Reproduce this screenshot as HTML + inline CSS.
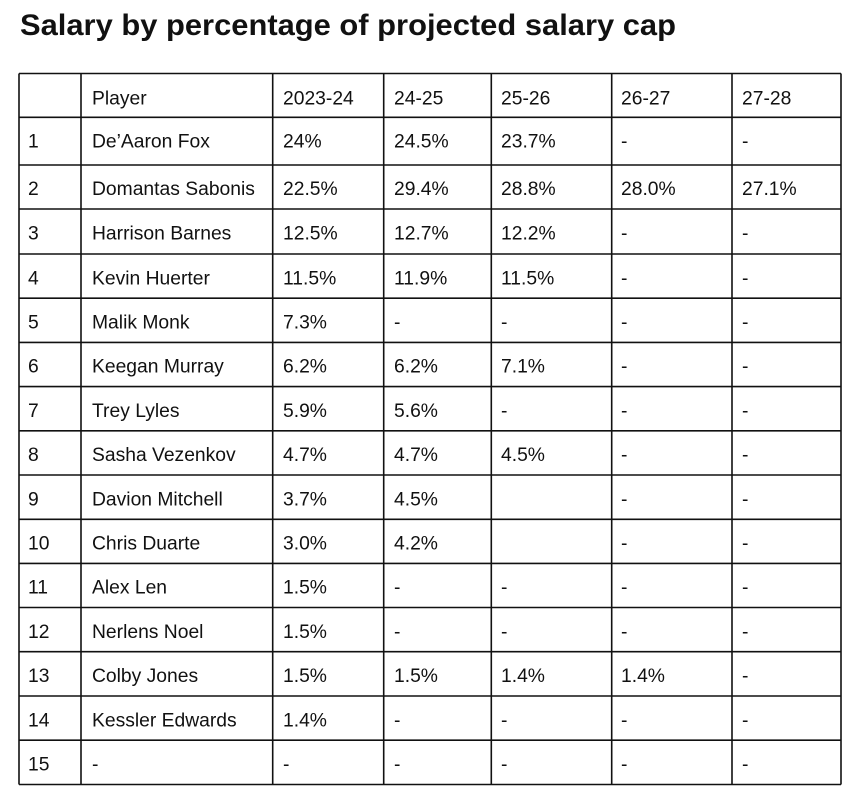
<!DOCTYPE html>
<html>
<head>
<meta charset="utf-8">
<style>
  html,body{margin:0;padding:0;background:#fff;}
  body{width:858px;height:804px;overflow:hidden;}
  svg{display:block;}
  text{font-family:"Liberation Sans",Arial,sans-serif;fill:#111;}
  .t{font-size:19.3px;}
  .h{font-size:30px;font-weight:bold;}
</style>
</head>
<body>
<svg width="858" height="804" viewBox="0 0 858 804" xmlns="http://www.w3.org/2000/svg">
  <rect width="858" height="804" fill="#fff"/>
  <text class="h" x="20" y="35" textLength="656" lengthAdjust="spacingAndGlyphs">Salary by percentage of projected salary cap</text>

  <g stroke="#111" stroke-width="1.6" fill="none">
    <line x1="19" y1="73.5" x2="841" y2="73.5"/>
    <line x1="19" y1="117.3" x2="841" y2="117.3"/>
    <line x1="19" y1="165" x2="841" y2="165"/>
    <line x1="19" y1="209" x2="841" y2="209"/>
    <line x1="19" y1="254" x2="841" y2="254"/>
    <line x1="19" y1="298.2" x2="841" y2="298.2"/>
    <line x1="19" y1="342.4" x2="841" y2="342.4"/>
    <line x1="19" y1="386.6" x2="841" y2="386.6"/>
    <line x1="19" y1="430.8" x2="841" y2="430.8"/>
    <line x1="19" y1="475" x2="841" y2="475"/>
    <line x1="19" y1="519.3" x2="841" y2="519.3"/>
    <line x1="19" y1="563.4" x2="841" y2="563.4"/>
    <line x1="19" y1="607.5" x2="841" y2="607.5"/>
    <line x1="19" y1="651.7" x2="841" y2="651.7"/>
    <line x1="19" y1="696" x2="841" y2="696"/>
    <line x1="19" y1="740.2" x2="841" y2="740.2"/>
    <line x1="19" y1="784.5" x2="841" y2="784.5"/>

    <line x1="19" y1="73.5" x2="19" y2="784.5"/>
    <line x1="81" y1="73.5" x2="81" y2="784.5"/>
    <line x1="272.7" y1="73.5" x2="272.7" y2="784.5"/>
    <line x1="383.7" y1="73.5" x2="383.7" y2="784.5"/>
    <line x1="491.3" y1="73.5" x2="491.3" y2="784.5"/>
    <line x1="611.7" y1="73.5" x2="611.7" y2="784.5"/>
    <line x1="732" y1="73.5" x2="732" y2="784.5"/>
    <line x1="841" y1="73.5" x2="841" y2="784.5"/>
  </g>

  <g>
    <text class="t" x="92" y="104.3">Player</text>
    <text class="t" x="283" y="104.3">2023-24</text>
    <text class="t" x="394" y="104.3">24-25</text>
    <text class="t" x="501" y="104.3">25-26</text>
    <text class="t" x="621" y="104.3">26-27</text>
    <text class="t" x="742" y="104.3">27-28</text>

    <text class="t" x="28" y="147.7">1</text>
    <text class="t" x="92" y="147.7">De’Aaron Fox</text>
    <text class="t" x="283" y="147.7">24%</text>
    <text class="t" x="394" y="147.7">24.5%</text>
    <text class="t" x="501" y="147.7">23.7%</text>
    <text class="t" x="621" y="147.7">-</text>
    <text class="t" x="742" y="147.7">-</text>

    <text class="t" x="28" y="195">2</text>
    <text class="t" x="92" y="195">Domantas Sabonis</text>
    <text class="t" x="283" y="195">22.5%</text>
    <text class="t" x="394" y="195">29.4%</text>
    <text class="t" x="501" y="195">28.8%</text>
    <text class="t" x="621" y="195">28.0%</text>
    <text class="t" x="742" y="195">27.1%</text>

    <text class="t" x="28" y="239.3">3</text>
    <text class="t" x="92" y="239.3">Harrison Barnes</text>
    <text class="t" x="283" y="239.3">12.5%</text>
    <text class="t" x="394" y="239.3">12.7%</text>
    <text class="t" x="501" y="239.3">12.2%</text>
    <text class="t" x="621" y="239.3">-</text>
    <text class="t" x="742" y="239.3">-</text>

    <text class="t" x="28" y="284.3">4</text>
    <text class="t" x="92" y="284.3">Kevin Huerter</text>
    <text class="t" x="283" y="284.3">11.5%</text>
    <text class="t" x="394" y="284.3">11.9%</text>
    <text class="t" x="501" y="284.3">11.5%</text>
    <text class="t" x="621" y="284.3">-</text>
    <text class="t" x="742" y="284.3">-</text>

    <text class="t" x="28" y="328.5">5</text>
    <text class="t" x="92" y="328.5">Malik Monk</text>
    <text class="t" x="283" y="328.5">7.3%</text>
    <text class="t" x="394" y="328.5">-</text>
    <text class="t" x="501" y="328.5">-</text>
    <text class="t" x="621" y="328.5">-</text>
    <text class="t" x="742" y="328.5">-</text>

    <text class="t" x="28" y="372.7">6</text>
    <text class="t" x="92" y="372.7">Keegan Murray</text>
    <text class="t" x="283" y="372.7">6.2%</text>
    <text class="t" x="394" y="372.7">6.2%</text>
    <text class="t" x="501" y="372.7">7.1%</text>
    <text class="t" x="621" y="372.7">-</text>
    <text class="t" x="742" y="372.7">-</text>

    <text class="t" x="28" y="416.9">7</text>
    <text class="t" x="92" y="416.9">Trey Lyles</text>
    <text class="t" x="283" y="416.9">5.9%</text>
    <text class="t" x="394" y="416.9">5.6%</text>
    <text class="t" x="501" y="416.9">-</text>
    <text class="t" x="621" y="416.9">-</text>
    <text class="t" x="742" y="416.9">-</text>

    <text class="t" x="28" y="461.1">8</text>
    <text class="t" x="92" y="461.1">Sasha Vezenkov</text>
    <text class="t" x="283" y="461.1">4.7%</text>
    <text class="t" x="394" y="461.1">4.7%</text>
    <text class="t" x="501" y="461.1">4.5%</text>
    <text class="t" x="621" y="461.1">-</text>
    <text class="t" x="742" y="461.1">-</text>

    <text class="t" x="28" y="505.3">9</text>
    <text class="t" x="92" y="505.3">Davion Mitchell</text>
    <text class="t" x="283" y="505.3">3.7%</text>
    <text class="t" x="394" y="505.3">4.5%</text>
    <text class="t" x="621" y="505.3">-</text>
    <text class="t" x="742" y="505.3">-</text>

    <text class="t" x="28" y="549.6">10</text>
    <text class="t" x="92" y="549.6">Chris Duarte</text>
    <text class="t" x="283" y="549.6">3.0%</text>
    <text class="t" x="394" y="549.6">4.2%</text>
    <text class="t" x="621" y="549.6">-</text>
    <text class="t" x="742" y="549.6">-</text>

    <text class="t" x="28" y="593.7">11</text>
    <text class="t" x="92" y="593.7">Alex Len</text>
    <text class="t" x="283" y="593.7">1.5%</text>
    <text class="t" x="394" y="593.7">-</text>
    <text class="t" x="501" y="593.7">-</text>
    <text class="t" x="621" y="593.7">-</text>
    <text class="t" x="742" y="593.7">-</text>

    <text class="t" x="28" y="637.8">12</text>
    <text class="t" x="92" y="637.8">Nerlens Noel</text>
    <text class="t" x="283" y="637.8">1.5%</text>
    <text class="t" x="394" y="637.8">-</text>
    <text class="t" x="501" y="637.8">-</text>
    <text class="t" x="621" y="637.8">-</text>
    <text class="t" x="742" y="637.8">-</text>

    <text class="t" x="28" y="682">13</text>
    <text class="t" x="92" y="682">Colby Jones</text>
    <text class="t" x="283" y="682">1.5%</text>
    <text class="t" x="394" y="682">1.5%</text>
    <text class="t" x="501" y="682">1.4%</text>
    <text class="t" x="621" y="682">1.4%</text>
    <text class="t" x="742" y="682">-</text>

    <text class="t" x="28" y="726.3">14</text>
    <text class="t" x="92" y="726.3">Kessler Edwards</text>
    <text class="t" x="283" y="726.3">1.4%</text>
    <text class="t" x="394" y="726.3">-</text>
    <text class="t" x="501" y="726.3">-</text>
    <text class="t" x="621" y="726.3">-</text>
    <text class="t" x="742" y="726.3">-</text>

    <text class="t" x="28" y="770.5">15</text>
    <text class="t" x="92" y="770.5">-</text>
    <text class="t" x="283" y="770.5">-</text>
    <text class="t" x="394" y="770.5">-</text>
    <text class="t" x="501" y="770.5">-</text>
    <text class="t" x="621" y="770.5">-</text>
    <text class="t" x="742" y="770.5">-</text>
  </g>
</svg>
</body>
</html>
